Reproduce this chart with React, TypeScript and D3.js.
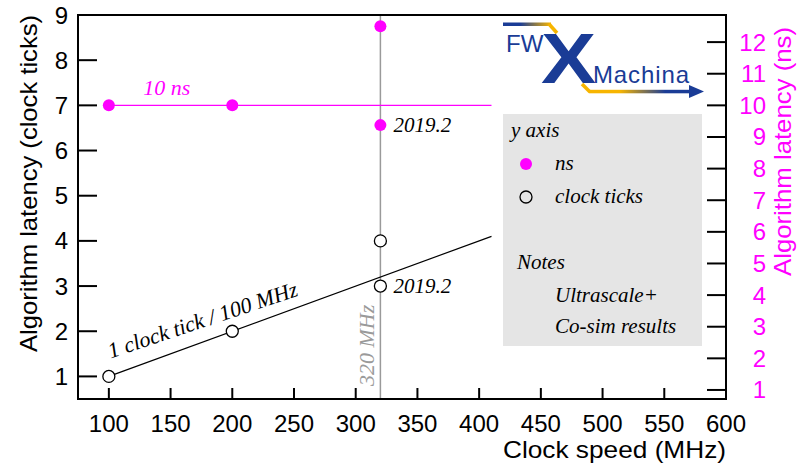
import * as d3 from 'd3';

// clock speed (MHz) of each measurement
const freqs = [100, 200, 320, 320];
// latency in clock ticks (open circles, left axis)
const clockTicks = [1, 2, 4, 3];
// latency in ns (magenta dots, right axis)
const latencyNs = [10, 10, 12.5, 9.375];

const xTicks = [100, 150, 200, 250, 300, 350, 400, 450, 500, 550, 600];
const yLeftTicks = [1, 2, 3, 4, 5, 6, 7, 8, 9];
const yRightTicks = [1, 2, 3, 4, 5, 6, 7, 8, 9, 10, 11, 12];

// reference lines: 1 clock tick / 100 MHz and 10 ns
const refX = [100, 410];
const refTicks = [1, 4.1];
const refNs = [10, 10];
const markerFreq = 320;

const legendItems = ['y axis', 'ns', 'clock ticks', '', 'Notes', 'Ultrascale+', 'Co-sim results'];

const MAGENTA = '#ff00ff';
const BLUE = '#1a3c96';
const GOLD = '#f7b500';
const SANS = '"Liberation Sans", Arial, sans-serif';
const SERIF = '"Liberation Serif", "Times New Roman", serif';

export default function App() {
  const W = 798;
  const H = 470;
  const left = 78, right = 726, top = 15, bottom = 399;

  const x = d3.scaleLinear().domain([75, 600]).range([left, right]);
  const yL = d3.scaleLinear().domain([0.5, 9]).range([bottom, top]);
  // 7 clock ticks at 100 MHz <-> 10 ns
  const yR = d3.scaleLinear().domain([0.5 * 10 / 7, 9 * 10 / 7]).range([bottom, top]);

  const refLine = d3.line<number>()
    .x((d) => x(d))
    .y((d, i) => yL(refTicks[i]));
  const nsLine = d3.line<number>()
    .x((d) => x(d))
    .y((d, i) => yR(refNs[i]));

  return (
    <svg width={W} height={H} style={{ position: 'absolute', left: 0, top: 0, background: '#fff' }}>
      <defs>
        <linearGradient id="topbar" x1="0" x2="1" y1="0" y2="0">
          <stop offset="0%" stopColor={BLUE} />
          <stop offset="35%" stopColor={BLUE} />
          <stop offset="100%" stopColor={GOLD} />
        </linearGradient>
        <linearGradient id="botbar" x1="0" x2="1" y1="0" y2="0">
          <stop offset="0%" stopColor={GOLD} />
          <stop offset="30%" stopColor={GOLD} />
          <stop offset="75%" stopColor={BLUE} />
          <stop offset="100%" stopColor={BLUE} />
        </linearGradient>
      </defs>

      {/* marker at 320 MHz */}
      <line x1={x(markerFreq)} x2={x(markerFreq)} y1={top} y2={bottom} stroke="#9a9a9a" strokeWidth={1.5} />
      <text transform={`translate(${x(markerFreq) - 6},${bottom - 13}) rotate(-90)`}
        fontFamily={SERIF} fontStyle="italic" fontSize={22} fill="#9a9a9a">320 MHz</text>

      {/* reference lines */}
      <path d={refLine(refX) || ''} fill="none" stroke="#000" strokeWidth={1.2} />
      <path d={nsLine(refX) || ''} fill="none" stroke={MAGENTA} strokeWidth={1.2} />

      <text transform={`translate(${x(100) + 2},${yL(1) - 18}) rotate(-18.5)`}
        fontFamily={SERIF} fontStyle="italic" fontSize={22} fill="#000">1 clock tick / 100 MHz</text>
      <text x={x(147)} y={yR(10) - 10} textAnchor="middle"
        fontFamily={SERIF} fontStyle="italic" fontSize={22} fill={MAGENTA}>10 ns</text>

      {/* points */}
      {freqs.map((f, i) => (
        <circle key={'c' + i} cx={x(f)} cy={yL(clockTicks[i])} r={6} fill="#fff" stroke="#000" strokeWidth={1.3} />
      ))}
      {freqs.map((f, i) => (
        <circle key={'n' + i} cx={x(f)} cy={yR(latencyNs[i])} r={6} fill={MAGENTA} />
      ))}
      <text x={x(320) + 13} y={yL(clockTicks[3]) + 7} fontFamily={SERIF} fontStyle="italic" fontSize={21}>2019.2</text>
      <text x={x(320) + 13} y={yR(latencyNs[3]) + 7} fontFamily={SERIF} fontStyle="italic" fontSize={21}>2019.2</text>

      {/* frame */}
      <rect x={left} y={top} width={right - left} height={bottom - top} fill="none" stroke="#000" strokeWidth={2} />

      {/* bottom axis */}
      {xTicks.map((t) => (
        <g key={'x' + t}>
          <line x1={x(t)} x2={x(t)} y1={bottom} y2={bottom - 11} stroke="#000" strokeWidth={2} />
          <text x={x(t)} y={432} textAnchor="middle" fontFamily={SANS} fontSize={24}>{t}</text>
        </g>
      ))}
      <text x={right} y={458} textAnchor="end" fontFamily={SANS} fontSize={24}
        textLength={223} lengthAdjust="spacingAndGlyphs">Clock speed (MHz)</text>

      {/* left axis */}
      {yLeftTicks.map((t) => (
        <g key={'l' + t}>
          <line x1={left} x2={left + 19} y1={yL(t)} y2={yL(t)} stroke="#000" strokeWidth={2} />
          <text x={68} y={yL(t) + 8.5} textAnchor="end" fontFamily={SANS} fontSize={24}>{t}</text>
        </g>
      ))}
      <text transform={`translate(37,${top}) rotate(-90)`} textAnchor="end" fontFamily={SANS} fontSize={24}
        textLength={337} lengthAdjust="spacingAndGlyphs">
        Algorithm latency (clock ticks)
      </text>

      {/* right axis */}
      {yRightTicks.map((t) => (
        <g key={'r' + t}>
          <line x1={right - 19} x2={right} y1={yR(t)} y2={yR(t)} stroke="#000" strokeWidth={2} />
          <text x={766} y={yR(t) + 8.5} textAnchor="end" fontFamily={SANS} fontSize={24} fill={MAGENTA}>{t}</text>
        </g>
      ))}
      <text transform={`translate(791,27) rotate(-90)`} textAnchor="end" fontFamily={SANS} fontSize={24} fill={MAGENTA}
        textLength={249} lengthAdjust="spacingAndGlyphs">
        Algorithm latency (ns)
      </text>

      {/* legend */}
      <rect x={503} y={114} width={199} height={232} fill="#e5e5e5" />
      <g fontFamily={SERIF} fontStyle="italic" fontSize={21} fill="#000">
        <text x={511} y={137}>{legendItems[0]}</text>
        <circle cx={526} cy={164} r={6} fill={MAGENTA} />
        <text x={555} y={170}>{legendItems[1]}</text>
        <circle cx={526} cy={197} r={6} fill="none" stroke="#000" strokeWidth={1.3} />
        <text x={555} y={203}>{legendItems[2]}</text>
        <text x={517} y={269}>{legendItems[4]}</text>
        <text x={555} y={302}>{legendItems[5]}</text>
        <text x={555} y={333}>{legendItems[6]}</text>
      </g>

      {/* FW X Machina logo */}
      <g>
        <rect x={503} y={22.5} width={48} height={3.5} fill="url(#topbar)" />
        <line x1={549} y1={24} x2={557} y2={33} stroke={GOLD} strokeWidth={3.5} />
        <text x={506} y={52} fontFamily={SANS} fontSize={24} fill={BLUE}>FW</text>
        <text transform="translate(541,83) scale(1.18,1)" fontFamily={SANS} fontWeight="bold" fontSize={70} fill={BLUE}>X</text>
        <text x={593} y={83} fontFamily={SANS} fontSize={24} fill={BLUE} textLength={96}>Machina</text>
        <line x1={582} y1={84} x2={590} y2={92} stroke={GOLD} strokeWidth={3.5} />
        <rect x={589} y={89.8} width={102} height={3.5} fill="url(#botbar)" />
        <polygon points="689,85 704,91.5 689,98" fill={BLUE} />
      </g>
    </svg>
  );
}
